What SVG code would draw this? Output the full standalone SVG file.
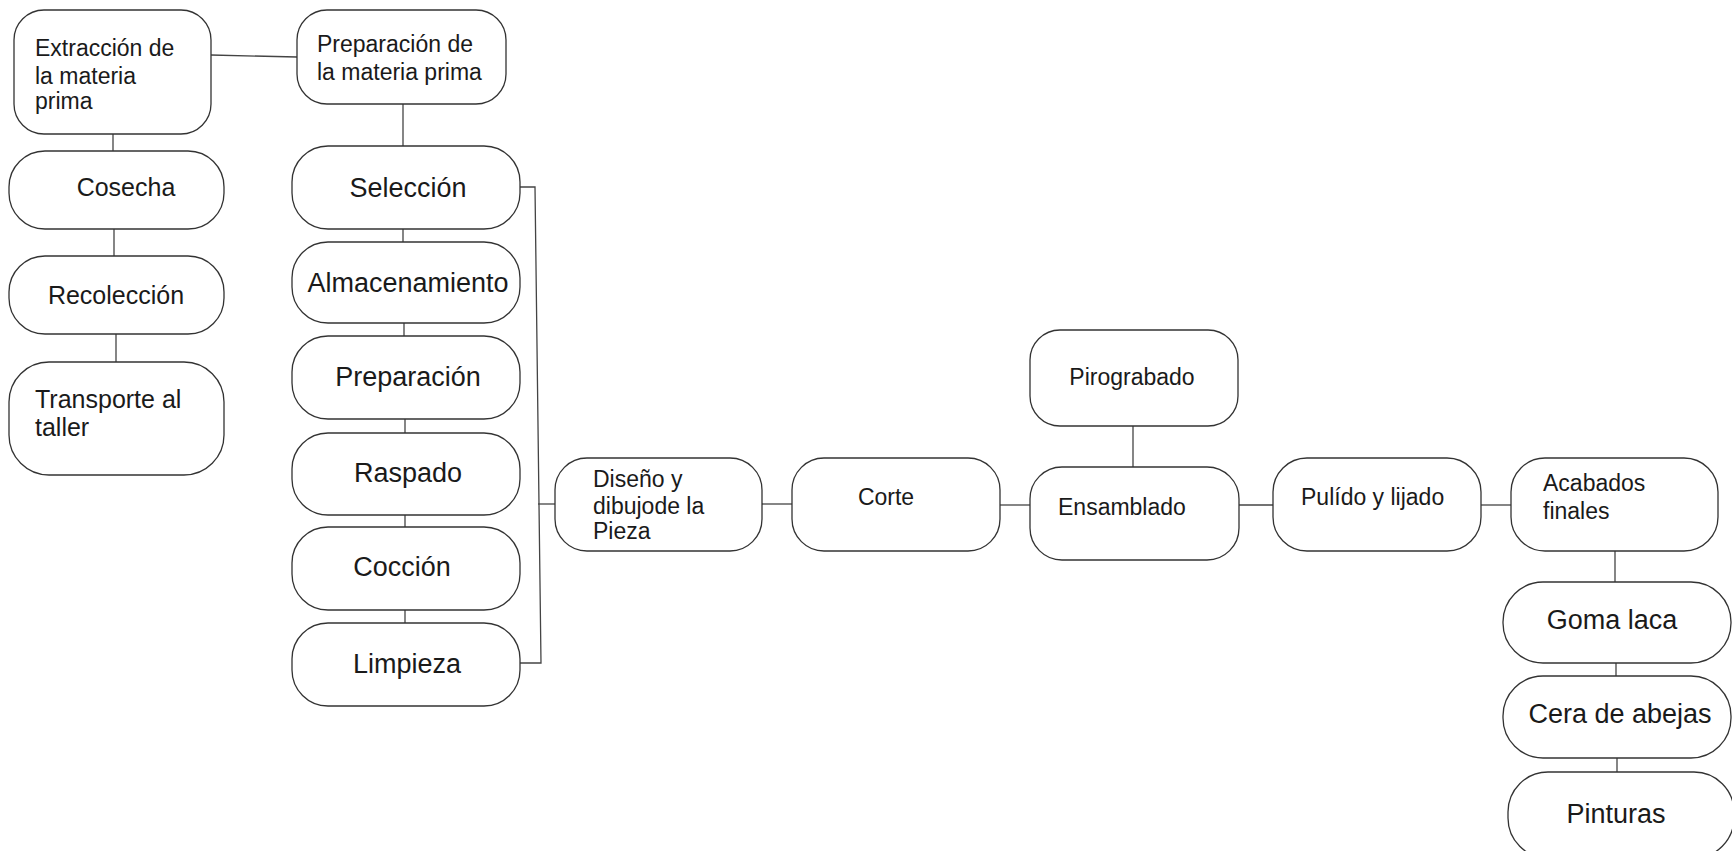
<svg xmlns="http://www.w3.org/2000/svg" width="1732" height="851" viewBox="0 0 1732 851">
<style>
.n{fill:#fff;stroke:#333;stroke-width:1.3}
.t{font-family:"Liberation Sans",Arial,sans-serif;fill:#1a1a1a}
.s{font-size:23px}
.m{font-size:25px}
.l{font-size:27px}
.c{text-anchor:middle}
#connectors path{fill:none;stroke:#444;stroke-width:1.3}
</style>
<rect width="1732" height="851" fill="#fff"/>
<g id="connectors">
<path d="M211 55 L297 57"/>
<path d="M113 134 L113 151"/>
<path d="M114 229 L114 256"/>
<path d="M116 334 L116 362"/>
<path d="M403 104 L403 146"/>
<path d="M403 229 L403 242"/>
<path d="M404 323 L404 336"/>
<path d="M405 419 L405 433"/>
<path d="M405 515 L405 527"/>
<path d="M405 610 L405 623"/>
<path d="M520 187 L535 187 L541 663 L520 663"/>
<path d="M538 504 L555 504"/>
<path d="M762 504 L792 504"/>
<path d="M1000 505 L1030 505"/>
<path d="M1133 426 L1133 467"/>
<path d="M1239 505 L1273 505"/>
<path d="M1481 505 L1511 505"/>
<path d="M1615 551 L1615 582"/>
<path d="M1616 663 L1616 676"/>
<path d="M1617 758 L1617 772"/>
</g>
<g id="extraccion"><rect class="n" x="14" y="10" width="197" height="124" rx="30"/>
<text class="t s" x="35" y="56">Extracción de</text><text class="t s" x="35" y="84">la materia</text><text class="t s" x="35" y="109">prima</text></g>
<g id="cosecha"><rect class="n" x="9" y="151" width="215" height="78" rx="36"/><text class="t m c" x="126" y="196">Cosecha</text></g>
<g id="recoleccion"><rect class="n" x="9" y="256" width="215" height="78" rx="36"/><text class="t m c" x="116" y="304">Recolección</text></g>
<g id="transporte"><rect class="n" x="9" y="362" width="215" height="113" rx="40"/><text class="t m" x="35" y="408">Transporte al</text><text class="t m" x="35" y="436">taller</text></g>
<g id="preparacion-mp"><rect class="n" x="297" y="10" width="209" height="94" rx="30"/>
<text class="t s" x="317" y="52">Preparación de</text><text class="t s" x="317" y="80">la materia prima</text></g>
<g id="seleccion"><rect class="n" x="292" y="146" width="228" height="83" rx="36"/><text class="t l c" x="408" y="197">Selección</text></g>
<g id="almacenamiento"><rect class="n" x="292" y="242" width="228" height="81" rx="36"/><text class="t l c" x="408" y="292">Almacenamiento</text></g>
<g id="preparacion"><rect class="n" x="292" y="336" width="228" height="83" rx="36"/><text class="t l c" x="408" y="386">Preparación</text></g>
<g id="raspado"><rect class="n" x="292" y="433" width="228" height="82" rx="36"/><text class="t l c" x="408" y="482">Raspado</text></g>
<g id="coccion"><rect class="n" x="292" y="527" width="228" height="83" rx="36"/><text class="t l c" x="402" y="576">Cocción</text></g>
<g id="limpieza"><rect class="n" x="292" y="623" width="228" height="83" rx="36"/><text class="t l c" x="407" y="673">Limpieza</text></g>
<g id="diseno"><rect class="n" x="555" y="458" width="207" height="93" rx="32"/>
<text class="t s" x="593" y="487">Diseño y</text><text class="t s" x="593" y="514">dibujode la</text><text class="t s" x="593" y="539">Pieza</text></g>
<g id="corte"><rect class="n" x="792" y="458" width="208" height="93" rx="32"/><text class="t s c" x="886" y="505">Corte</text></g>
<g id="pirograbado"><rect class="n" x="1030" y="330" width="208" height="96" rx="30"/><text class="t s c" x="1132" y="385">Pirograbado</text></g>
<g id="ensamblado"><rect class="n" x="1030" y="467" width="209" height="93" rx="32"/><text class="t s" x="1058" y="515">Ensamblado</text></g>
<g id="pulido"><rect class="n" x="1273" y="458" width="208" height="93" rx="34"/><text class="t s" x="1301" y="505">Pulído y lijado</text></g>
<g id="acabados"><rect class="n" x="1511" y="458" width="207" height="93" rx="34"/>
<text class="t s" x="1543" y="491">Acabados</text><text class="t s" x="1543" y="519">finales</text></g>
<g id="goma"><rect class="n" x="1503" y="582" width="228" height="81" rx="40"/><text class="t l c" x="1612" y="629">Goma laca</text></g>
<g id="cera"><rect class="n" x="1503" y="676" width="228" height="82" rx="40"/><text class="t l c" x="1620" y="723">Cera de abejas</text></g>
<g id="pinturas"><rect class="n" x="1508" y="772" width="226" height="86" rx="40"/><text class="t l c" x="1616" y="823">Pinturas</text></g>
</svg>
